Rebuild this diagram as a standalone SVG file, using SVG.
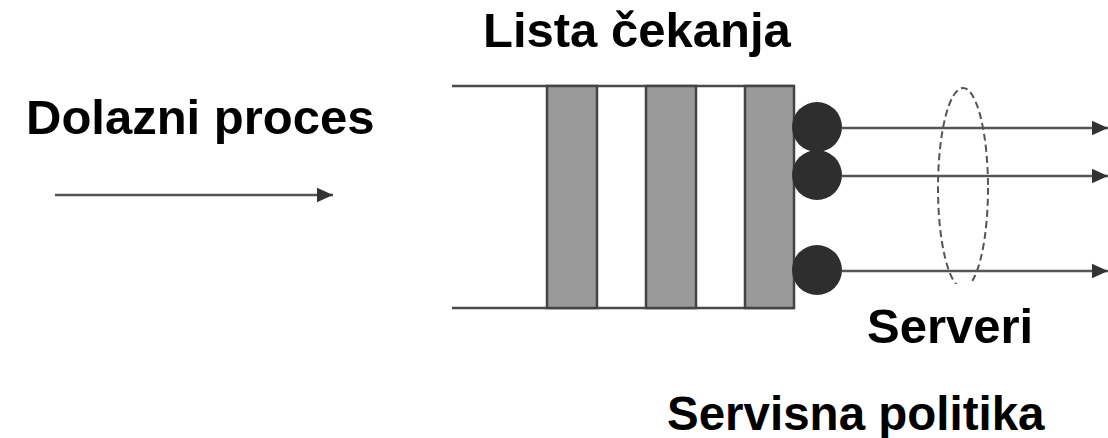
<svg xmlns="http://www.w3.org/2000/svg" width="1108" height="438" viewBox="0 0 1108 438">
<defs>
<style>
.t{font-family:"Liberation Sans",Arial,sans-serif;font-weight:bold;font-size:49px;fill:#000}
.ln{stroke:#4a4a4a;stroke-width:2.5;fill:none}
.bar{fill:#9a9a9a;stroke:#444;stroke-width:2.5}
.srv{fill:#2e2e2e}
.cn{stroke:#555;stroke-width:2.5;fill:none}
</style>
<marker id="ah" viewBox="0 0 10 10" refX="10" refY="5" markerWidth="16" markerHeight="16" markerUnits="userSpaceOnUse" orient="auto">
<path d="M0,0.5 L10,5 L0,9.5 z" fill="#333"/>
</marker>
<clipPath id="ec"><rect x="900" y="80" width="120" height="204"/></clipPath>
</defs>
<rect width="1108" height="438" fill="#fff"/>
<g id="queue">
<line class="ln" x1="452" y1="86" x2="794" y2="86"/>
<line class="ln" x1="452" y1="308" x2="794" y2="308"/>
<rect class="bar" x="547" y="86" width="50" height="222"/>
<rect class="bar" x="646" y="86" width="50" height="222"/>
<rect class="bar" x="745" y="86" width="49" height="222"/>
</g>
<g id="servers">
<circle class="srv" cx="817" cy="127" r="25"/>
<circle class="srv" cx="817" cy="175" r="25"/>
<circle class="srv" cx="817" cy="270" r="25"/>
</g>
<g id="policy">
<ellipse cx="963" cy="188" rx="25" ry="100" fill="none" stroke="#555" stroke-width="2" stroke-dasharray="7,4" clip-path="url(#ec)"/>
</g>
<g id="connectors">
<line class="cn" x1="55" y1="195" x2="333" y2="195" marker-end="url(#ah)"/>
<line class="cn" x1="842" y1="128" x2="1108" y2="128" marker-end="url(#ah)"/>
<line class="cn" x1="842" y1="176" x2="1108" y2="176" marker-end="url(#ah)"/>
<line class="cn" x1="842" y1="271" x2="1108" y2="271" marker-end="url(#ah)"/>
</g>
<g id="labels">
<text class="t" x="483" y="47">Lista čekanja</text>
<text class="t" x="26" y="134">Dolazni proces</text>
<text class="t" x="867" y="343">Serveri</text>
<text class="t" x="667" y="430" style="font-size:47.5px">Servisna politika</text>
</g>
</svg>
